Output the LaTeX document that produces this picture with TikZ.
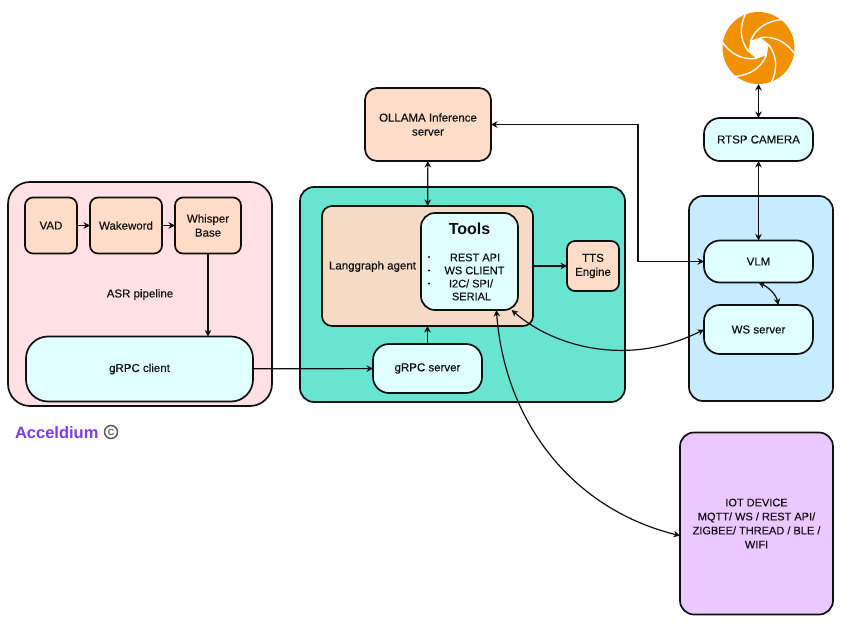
\documentclass[tikz,border=0pt]{standalone}
\usepackage{fontspec}
\setmainfont{Liberation Sans}[FakeBold=0.3]
\newfontface\heavyf{Liberation Sans Bold}
\usetikzlibrary{arrows.meta}
\definecolor{asrbg}{HTML}{FFE0E4}
\definecolor{peach}{HTML}{FFDCC8}
\definecolor{agentbg}{HTML}{F5DAC6}
\definecolor{cyanbox}{HTML}{E0FFFF}
\definecolor{tealbg}{HTML}{69E4D0}
\definecolor{bluebg}{HTML}{C8ECFF}
\definecolor{iotbg}{HTML}{EBC8FF}
\definecolor{inkc}{HTML}{101010}
\definecolor{brandc}{HTML}{7C3AED}
\definecolor{apert}{HTML}{F29100}
\tikzset{
  x=1pt,y=-1pt,
  every node/.style={font=\fontsize{11.5}{14}\selectfont,text=inkc,align=center,inner sep=0pt,outer sep=0pt},
  boxs/.style={draw=inkc,line width=1.7pt,rectangle},
  panel/.style={boxs,rounded corners=22pt},
  block/.style={boxs,fill=peach,rounded corners=8pt},
  pill/.style={boxs,fill=cyanbox,rounded corners=16pt},
  link/.style={draw=inkc,line width=1.2pt,-{Stealth[length=6.5pt,width=6.5pt]}},
  dlink/.style={draw=inkc,line width=1.2pt,{Stealth[length=6.5pt,width=6.5pt]}-{Stealth[length=6.5pt,width=6.5pt]}},
  blade/.style={draw=white,line width=1.4pt},
}
\begin{document}
\begin{tikzpicture}
\useasboundingbox (0,0) rectangle (846,629);
% panels
\node[panel,fill=asrbg,minimum width=264pt,minimum height=224pt] (asr) at (140,294) {};
\node[panel,fill=tealbg,rounded corners=14pt,minimum width=325pt,minimum height=215pt] (core) at (462.5,294.5) {};
\node[panel,fill=bluebg,rounded corners=14pt,minimum width=144pt,minimum height=205pt] (edge) at (761,298.5) {};
\node[panel,fill=iotbg,rounded corners=14pt,minimum width=153pt,minimum height=182pt,font=\fontsize{11}{14}\selectfont] (iot) at (756.5,523.5) {IOT DEVICE\\MQTT/ WS / REST API/\\ZIGBEE/ THREAD / BLE /\\WIFI};
% ASR
\node[block,minimum width=52pt,minimum height=56pt] (vad) at (51,225.5) {VAD};
\node[block,minimum width=72pt,minimum height=56pt] (wake) at (126,225.5) {Wakeword};
\node[block,minimum width=66pt,minimum height=56pt] (whisper) at (208,225.5) {Whisper\\Base};
\node (asrlabel) at (140,294.5) {ASR pipeline};
\node[pill,rounded corners=22pt,minimum width=227pt,minimum height=65pt] (client) at (139.5,369) {gRPC client};
% core
\node[boxs,fill=agentbg,rounded corners=10pt,minimum width=211pt,minimum height=120pt] (agent) at (427.5,266) {};
\node (agentlabel) at (372.5,266.5) {Langgraph agent};
\node[boxs,fill=cyanbox,rounded corners=14pt,minimum width=97pt,minimum height=97pt] (tools) at (469.5,261.5) {};
\node[font=\fontsize{16}{18}\selectfont\heavyf] (toolstitle) at (469.5,228.5) {Tools};
\node[font=\fontsize{11}{13}\selectfont] (l1) at (475,257.5) {REST API};
\node[font=\fontsize{11}{13}\selectfont] (l2) at (474.5,270.5) {WS CLIENT};
\node[font=\fontsize{11}{13}\selectfont] (l3) at (471,283.5) {I2C/ SPI/};
\node[font=\fontsize{11}{13}\selectfont] (l4) at (471.5,296.5) {SERIAL};
\fill[inkc] (429,257) circle (1.1pt) (429,270.5) circle (1.1pt) (429,283.5) circle (1.1pt);
\node[block,minimum width=52pt,minimum height=50pt] (tts) at (593,266) {TTS\\Engine};
\node[pill,minimum width=109pt,minimum height=49pt] (server) at (427.5,368.5) {gRPC server};
% top
\node[block,rounded corners=12pt,minimum width=126pt,minimum height=73pt] (ollama) at (428,124.5) {OLLAMA Inference\\server};
\node[pill,minimum width=109pt,minimum height=43pt] (rtsp) at (758.5,139.5) {RTSP CAMERA};
\node[pill,minimum width=109pt,minimum height=42pt] (vlm) at (758.5,261.5) {VLM};
\node[pill,minimum width=109pt,minimum height=49pt] (ws) at (758.5,329.5) {WS server};
% aperture
\node[circle,fill=apert,minimum size=72pt] (cam) at (758.5,48) {};
\begin{scope}[shift={(758.5,48)}]
\foreach \a in {0,60,...,300}{
  \draw[blade,rotate=\a] (-12.7,-35) .. controls (-19,-22) and (-19,-8) .. (-10,3.5);
  \filldraw[draw=white,fill=white,line width=.4pt,rotate=\a] (0,0) -- (-10,3.5) -- (-8.03,-6.91) -- cycle;
}
\end{scope}
% brand
\node[anchor=west,text=brandc,font=\fontsize{16.5}{20}\selectfont\heavyf] (brand) at (15,432.5) {Acceldium};
\node[draw=black!65,line width=1.5pt,circle,minimum size=13pt,font=\fontsize{9}{9}\selectfont\heavyf,text=black!65] (copy) at (111,432) {C};
% connectors
\draw[link] (vad) -- (wake);
\draw[link] (wake) -- (whisper);
\draw[link] (whisper.south) -- (whisper.south |- client.north);
\draw[link] (client) -- (server);
\draw[link] (server) -- (agent);
\draw[dlink] (ollama) -- (agent);
\draw[link] (agent.east |- tts.west) -- (tts.west);
\draw[dlink] (ollama.east) -- (638,124.5) -- (638,261.5) -- (vlm.west);
\draw[dlink] (cam) -- (rtsp);
\draw[dlink] (rtsp) -- (vlm);
\draw[dlink] (vlm.south) .. controls (768,287) and (776,294) .. (ws.51);
\draw[dlink] (tools.-49) .. controls (555,348) and (630,367) .. (ws.west);
\draw[dlink] (tools.-61) .. controls (505,425) and (575,510) .. (iot.189);
\end{tikzpicture}
\end{document}
